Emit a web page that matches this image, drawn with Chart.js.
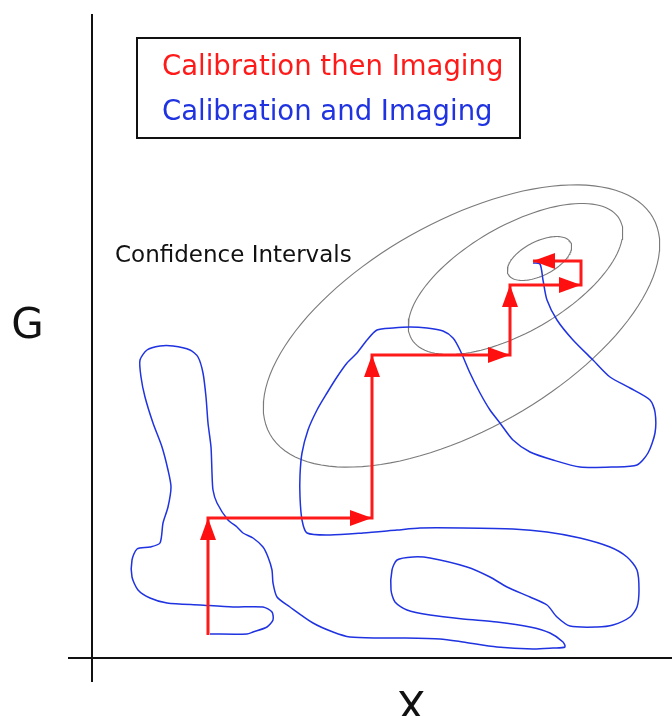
<!DOCTYPE html>
<html><head><meta charset="utf-8">
<script src="https://cdn.jsdelivr.net/npm/chart.js@4.4.0/dist/chart.umd.min.js"></script>
<style>html,body{margin:0;padding:0;background:#fff;overflow:hidden}canvas{display:block}</style>
</head><body>
<canvas id="c" width="672" height="716"></canvas>
<script>
// ---- data (units measured from the axis origin) ----
const blueX = [441,448,451,455,465,481,501,518,538,558,563,563,556,545,521,488,461,438,421,408,398,388,378,368,361,351,335,318,301,285,275,265,255,245,235,225,216,210,208,208,210,215,238,271,305,328,371,421,455,488,518,535,545,547,545,538,521,505,478,465,455,438,415,398,375,338,321,305,300,299,303,315,338,371,405,438,458,471,473,461,441,405,371,348,308,288,258,241,221,198,185,181,180,176,171,161,151,145,136,125,121,120,119,116,114,111,106,98,81,68,55,48,49,53,61,70,76,79,76,71,68,58,45,40,40,46,58,75,108,141,171,180,181,175,161,155,118];
const blueY = [395,394,378,358,338,318,298,281,270,258,246,225,205,193,191,191,198,206,218,235,248,265,285,308,320,327,330,331,330,328,318,305,295,281,265,248,228,205,183,161,138,125,123,125,128,130,130,129,126,120,111,101,88,68,51,41,33,31,32,41,53,61,71,81,91,100,101,98,88,68,56,48,43,39,36,31,25,16,11,10,9,11,16,19,20,20,21,26,35,51,61,75,88,101,111,120,125,131,138,155,168,185,211,235,261,285,301,308,312,312,308,298,281,261,235,211,188,171,151,135,115,111,109,98,81,68,60,55,53,51,51,46,38,31,26,24,24];

const redX = [116,116,280,280,418,418,489,489,441];
const redY = [23,140,140,303,303,373,373,397,397];

const arrowX = [116,280,280,418,418,489,441];
const arrowY = [140,140,303,303,373,373,397];
const arrowRot = [0,90,0,90,0,90,-90];

const ellipseCX = [369.5,423.5,447.5];
const ellipseCY = [332,379,399.5];
const ellipseA = [220,120,35];
const ellipseB = [104,53,17];
const ellipseAngle = [29.5,30,27];

const xAxisLine = {x:[-24,580], y:[0,0]};
const yAxisLine = {x:[0,0], y:[-24,644]};

const legendLabels = ['Calibration then Imaging','Calibration and Imaging'];
const legendColors = ['#ff1a1a','#1f33e0'];
const annotationText = 'Confidence Intervals';
const xTitle = 'X';
const yTitle = 'G';

// ---- build datasets ----
function pts(xs, ys){ return xs.map((v,i)=>({x:v,y:ys[i]})); }
function ellipsePts(i){
  const out=[]; const th=ellipseAngle[i]*Math.PI/180;
  for(let k=0;k<=120;k++){
    const t=k/120*2*Math.PI;
    const ca=ellipseA[i]*Math.cos(t), sb=ellipseB[i]*Math.sin(t);
    out.push({x:ellipseCX[i]+ca*Math.cos(th)-sb*Math.sin(th), y:ellipseCY[i]+ca*Math.sin(th)+sb*Math.cos(th)});
  }
  return out;
}
function arrowHead(){
  const c=document.createElement('canvas'); c.width=18; c.height=44;
  const g=c.getContext('2d'); g.fillStyle='#ff1010';
  g.beginPath(); g.moveTo(9,22); g.lineTo(17,44); g.lineTo(1,44); g.closePath(); g.fill();
  return c;
}
const head = arrowHead();

const datasets = [];
datasets.push({data:pts(xAxisLine.x,xAxisLine.y), showLine:true, borderColor:'#111', borderWidth:2, pointRadius:0, order:10});
datasets.push({data:pts(yAxisLine.x,yAxisLine.y), showLine:true, borderColor:'#111', borderWidth:2, pointRadius:0, order:10});
for(let i=0;i<ellipseCX.length;i++){
  datasets.push({data:ellipsePts(i), showLine:true, borderColor:'#7a7a7a', borderWidth:1.1, pointRadius:0, tension:0, order:8});
}
datasets.push({data:pts(blueX,blueY), showLine:true, borderColor:'#1f33e0', borderWidth:1.5, pointRadius:0, tension:0.25, order:6});
datasets.push({data:pts(redX,redY), showLine:true, borderColor:'#ff1a1a', borderWidth:3, pointRadius:0, tension:0, borderJoinStyle:'miter', order:4});
datasets.push({data:pts(arrowX,arrowY), showLine:false, pointStyle:head, pointRadius:5, pointRotation:arrowRot, order:2});

const textPlugin = {
  id:'texts',
  afterDraw(chart){
    const ctx=chart.ctx, xs=chart.scales.x, ys=chart.scales.y;
    const X=v=>xs.getPixelForValue(v), Y=v=>ys.getPixelForValue(v);
    ctx.save();
    // legend box
    ctx.strokeStyle='#111'; ctx.lineWidth=2;
    ctx.strokeRect(X(45), Y(620), X(428)-X(45), Y(520)-Y(620));
    ctx.font='27.5px "DejaVu Sans"'; ctx.textBaseline='alphabetic'; ctx.textAlign='left';
    ctx.fillStyle=legendColors[0]; ctx.fillText(legendLabels[0], X(70), Y(583));
    ctx.fillStyle=legendColors[1]; ctx.fillText(legendLabels[1], X(70), Y(538));
    // annotation
    ctx.fillStyle='#111'; ctx.font='23px "DejaVu Sans"';
    ctx.fillText(annotationText, X(23), Y(396));
    // axis titles
    ctx.font='42px "DejaVu Sans"'; ctx.textAlign='center'; ctx.textBaseline='middle';
    ctx.fillText(yTitle, X(-64.5), Y(331));
    ctx.textBaseline='alphabetic';
    ctx.font='43px "DejaVu Sans"';
    ctx.fillText(xTitle, X(319), Y(-64));
    ctx.restore();
  }
};

new Chart(document.getElementById('c'), {
  type:'scatter',
  data:{datasets},
  options:{
    responsive:false, animation:false, devicePixelRatio:1,
    layout:{padding:0, autoPadding:false},
    plugins:{legend:{display:false}, tooltip:{enabled:false}},
    scales:{
      x:{type:'linear', min:-92, max:580, display:false},
      y:{type:'linear', min:-58, max:658, display:false}
    },
    elements:{line:{fill:false}}
  },
  plugins:[textPlugin]
});
</script>
</body></html>
